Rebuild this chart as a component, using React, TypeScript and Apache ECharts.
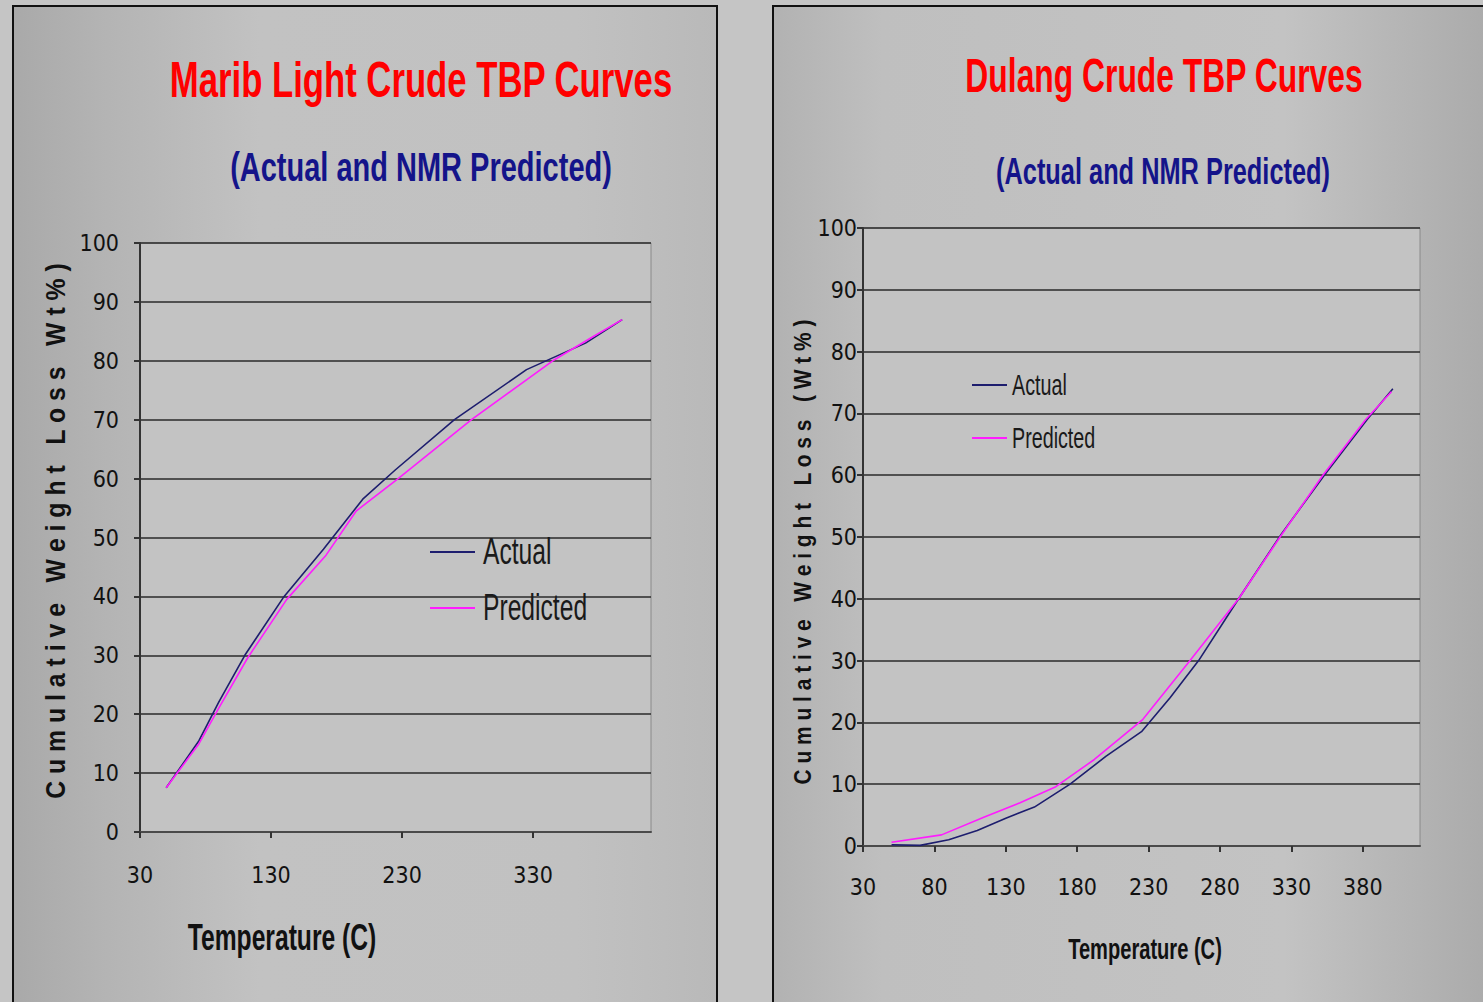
import React, { useEffect, useRef } from "react";
import * as echarts from "echarts";

// ---- Marib Light Crude (left chart) ----
const maribTempActual = [50, 75, 90, 110, 140, 170, 200, 225, 270, 325, 370, 398];
const maribActual = [7.5, 15.5, 22, 30, 40, 48, 56.5, 61.5, 70, 78.5, 83, 87];
const maribTempPred = [50, 75, 90, 112, 142, 172, 195, 227, 283, 345, 375, 398];
const maribPred = [7.5, 15, 21, 29.5, 39.5, 47, 54.5, 60, 70, 80, 84, 87];

// ---- Dulang Crude (right chart) ----
const dulangTempActual = [50, 70, 90, 110, 130, 150, 175, 200, 225, 245, 265, 293, 323, 353, 383, 401];
const dulangActual = [0.2, 0.1, 1, 2.5, 4.5, 6.3, 10, 14.5, 18.5, 24, 30, 40, 50.5, 60, 69, 74];
const dulangTempPred = [50, 85, 115, 140, 165, 192, 226, 259, 293, 322, 352, 382, 400];
const dulangPred = [0.6, 1.8, 4.7, 7, 9.6, 14, 20.5, 30, 40, 50, 60, 69, 73.5];

const xTicksLeft = [30, 130, 230, 330];
const xTicksRight = [30, 80, 130, 180, 230, 280, 330, 380];
const xMin = 30;
const xMax = 420;
const yMin = 0;
const yMax = 100;
const yStep = 10;

const seriesNames = ["Actual", "Predicted"];
const titleLeft = "Marib Light Crude TBP Curves";
const titleRight = "Dulang Crude TBP Curves";
const subtitle = "(Actual and NMR Predicted)";
const xTitle = "Temperature (C)";
const yTitleLeft = "C u m u l a t i v e   W e i g h t   L o s s   W t % )";
const yTitleRight = "C u m u l a t i v e   W e i g h t   L o s s   ( W t % )";

const NAVY = "#1d1d6e";
const MAGENTA = "#ff1cff";
const NARROW = "'Liberation Sans Narrow', 'DejaVu Sans Condensed', 'Liberation Sans', sans-serif";
const SANS = "'Liberation Sans', Arial, sans-serif";

const zip = (xs: number[], ys: number[]) => xs.map((x, i) => [x, ys[i]]);

function bigText(text: string, x: number, y: number, size: number, color: string, scaleX: number, rotation = 0, weight = "bold", align = "center") {
  return {
    type: "text",
    x,
    y,
    scaleX,
    rotation,
    z: 20,
    silent: true,
    style: {
      text,
      fill: color,
      font: `${weight} ${size}px ${SANS}`,
      align,
      verticalAlign: "middle",
    },
  };
}

function legendItems(x0: number, x1: number, tx: number, ys: number[], size: number, scaleX: number) {
  const colors = [NAVY, MAGENTA];
  const out: any[] = [];
  seriesNames.forEach((name, i) => {
    out.push({
      type: "line", z: 20, silent: true,
      shape: { x1: x0, y1: ys[i], x2: x1, y2: ys[i] },
      style: { stroke: colors[i], lineWidth: 2 },
    });
    out.push(bigText(name, tx, ys[i], size, "#1a1a1a", scaleX, 0, "normal", "left"));
  });
  return out;
}

function xAxisFor(grid: number, ticks: number[]) {
  return {
    type: "value",
    gridIndex: grid,
    min: xMin,
    max: xMax,
    axisLine: { show: true, lineStyle: { color: "#4a4a4a", width: 2 } },
    axisTick: { show: true, length: 6, customValues: ticks, lineStyle: { color: "#333", width: 2 } },
    axisLabel: {
      customValues: ticks,
      margin: grid === 0 ? 31 : 29,
      color: "#111",
      fontFamily: NARROW,
      fontSize: 23,
    },
    splitLine: { show: false },
  };
}

function yAxisFor(grid: number) {
  return {
    type: "value",
    gridIndex: grid,
    min: yMin,
    max: yMax,
    interval: yStep,
    axisLine: { show: true, lineStyle: { color: "#333", width: 2 } },
    axisTick: { show: true, length: 6, lineStyle: { color: "#333", width: 2 } },
    axisLabel: {
      margin: grid === 0 ? 21 : 6,
      color: "#111",
      fontFamily: NARROW,
      fontSize: 23,
    },
    splitLine: { show: true, lineStyle: { color: "#2a2a2a", width: 1.5 } },
  };
}

export default function App() {
  const ref = useRef<HTMLDivElement>(null);
  useEffect(() => {
    document.body.style.margin = "0";
    const chart = echarts.init(ref.current!, null, { renderer: "svg" });
    const option: any = {
      animation: false,
      backgroundColor: "#c5c5c5",
      grid: [
        { left: 140, top: 243, width: 511, height: 589, show: true, backgroundColor: "#c3c3c3", borderColor: "#8a8a8a", borderWidth: 1 },
        { left: 863, top: 228, width: 557, height: 618, show: true, backgroundColor: "#c3c3c3", borderColor: "#8a8a8a", borderWidth: 1 },
      ],
      xAxis: [xAxisFor(0, xTicksLeft), xAxisFor(1, xTicksRight)],
      yAxis: [yAxisFor(0), yAxisFor(1)],
      series: [
        { name: seriesNames[0], type: "line", xAxisIndex: 0, yAxisIndex: 0, data: zip(maribTempActual, maribActual), showSymbol: false, symbol: "none", color: NAVY, lineStyle: { color: NAVY, width: 1.6 } },
        { name: seriesNames[1], type: "line", xAxisIndex: 0, yAxisIndex: 0, data: zip(maribTempPred, maribPred), showSymbol: false, symbol: "none", color: MAGENTA, lineStyle: { color: MAGENTA, width: 1.6 } },
        { name: seriesNames[0], type: "line", xAxisIndex: 1, yAxisIndex: 1, data: zip(dulangTempActual, dulangActual), showSymbol: false, symbol: "none", color: NAVY, lineStyle: { color: NAVY, width: 1.6 } },
        { name: seriesNames[1], type: "line", xAxisIndex: 1, yAxisIndex: 1, data: zip(dulangTempPred, dulangPred), showSymbol: false, symbol: "none", color: MAGENTA, lineStyle: { color: MAGENTA, width: 1.6 } },
      ],
      graphic: [
        {
          type: "rect", z: -5, silent: true,
          shape: { x: 13, y: 6, width: 704, height: 1010 },
          style: {
            stroke: "#111", lineWidth: 2,
            fill: { type: "linear", x: 0, y: 0, x2: 1, y2: 0, colorStops: [
              { offset: 0, color: "#a9a9a9" }, { offset: 0.12, color: "#b3b3b3" }, { offset: 0.35, color: "#c2c2c2" },
              { offset: 0.8, color: "#c1c1c1" }, { offset: 1, color: "#b9b9b9" } ] },
          },
        },
        {
          type: "rect", z: -5, silent: true,
          shape: { x: 773, y: 6, width: 730, height: 1010 },
          style: {
            stroke: "#111", lineWidth: 2,
            fill: { type: "linear", x: 0, y: 0, x2: 1, y2: 0, colorStops: [
              { offset: 0, color: "#b2b2b2" }, { offset: 0.15, color: "#bfbfbf" }, { offset: 0.7, color: "#c3c3c3" },
              { offset: 1, color: "#a9a9a9" } ] },
          },
        },
        bigText(titleLeft, 421, 80, 50, "#ff0000", 0.694),
        bigText(subtitle, 421, 167, 40, "#14148a", 0.725),
        bigText(titleRight, 1164, 75, 48, "#ff0000", 0.663),
        bigText(subtitle, 1163, 172, 36, "#14148a", 0.705),
        bigText(xTitle, 282, 938, 36, "#111", 0.685),
        bigText(xTitle, 1145, 948, 30, "#111", 0.67),
        bigText(yTitleLeft, 55, 531, 28, "#111", 0.886, Math.PI / 2),
        bigText(yTitleRight, 803, 552, 24, "#111", 0.873, Math.PI / 2),
        ...legendItems(430, 475, 483, [552, 608], 36, 0.685),
        ...legendItems(972, 1007, 1012, [385, 438], 29, 0.68),
      ],
    };
    chart.setOption(option);
    return () => chart.dispose();
  }, []);
  return <div ref={ref} style={{ width: 1483, height: 1002 }} />;
}
